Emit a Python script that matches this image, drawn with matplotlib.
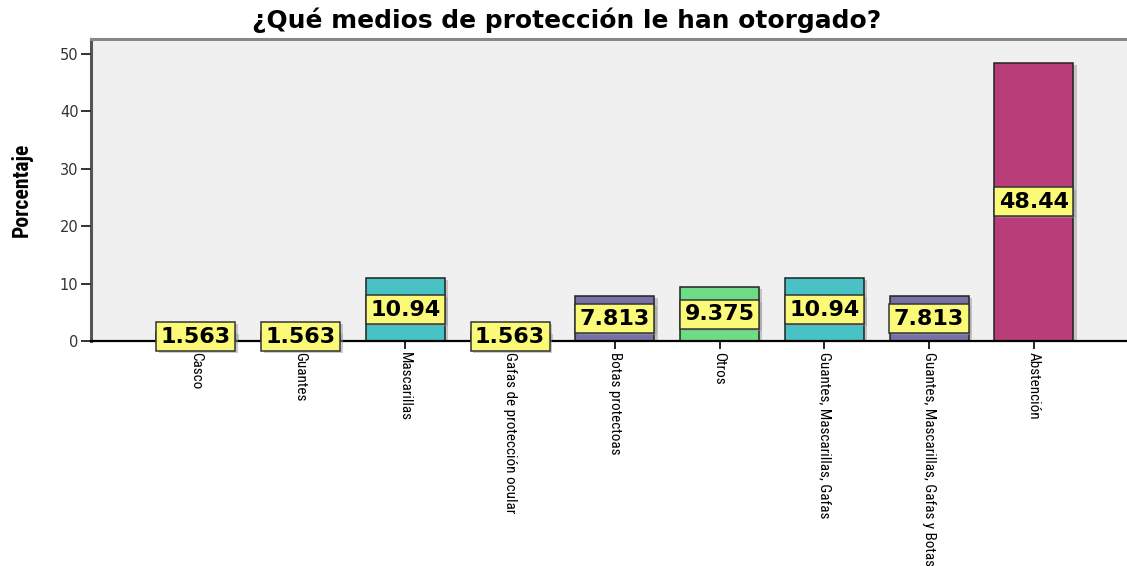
import matplotlib
matplotlib.use("Agg")
import matplotlib.pyplot as plt
import matplotlib.font_manager as fm
import matplotlib.patheffects as pe
import numpy as np

categories = ["Casco", "Guantes", "Mascarillas", "Gafas de protección ocular",
              "Botas protectoas", "Otros", "Guantes, Mascarillas, Gafas",
              "Guantes, Mascarillas, Gafas y Botas", "Abstención"]
values = [1.563, 1.563, 10.94, 1.563, 7.813, 9.375, 10.94, 7.813, 48.44]
value_labels = ["1.563", "1.563", "10.94", "1.563", "7.813", "9.375", "10.94", "7.813", "48.44"]
colors = ["#3e58ac", "#2eb848", "#48c2c5", "#d3ce97", "#7672a6",
          "#6edc84", "#48c2c5", "#7672a6", "#b93d79"]
yticks = [0, 10, 20, 30, 40, 50]
title = "¿Qué medios de protección le han otorgado?"
ylabel = "Porcentaje"

avail = {f.name for f in fm.fontManager.ttflist}
narrow_family = "Liberation Sans"
for cand in ["Liberation Sans Narrow", "Arial Narrow", "Roboto Condensed",
             "Open Sans Condensed", "DejaVu Sans Condensed"]:
    if cand in avail:
        narrow_family = cand
        break

W, H = 1127, 566
fig = plt.figure(figsize=(W / 100, H / 100), dpi=100)
ax = fig.add_axes([91 / W, 1 - 341 / H, 1 - 91 / W, (341 - 39) / H])
ax.set_facecolor("#f0f0f0")

x = np.arange(len(categories))
shadow = [pe.SimplePatchShadow(offset=(2.5, -1.5), shadow_rgbFace="#999999", alpha=0.5), pe.Normal()]
bars = ax.bar(x, values, width=0.754, color=colors, edgecolor="#222222",
              linewidth=1.1, zorder=2)
for b in bars:
    b.set_path_effects(shadow)

for xi, v, lab in zip(x, values, value_labels):
    t = ax.text(xi, v / 2, lab, ha="center", va="center", fontsize=16,
                fontweight="bold", family="DejaVu Sans", color="black", zorder=4,
                bbox=dict(boxstyle="square,pad=0.2", facecolor="#fafa78",
                          edgecolor="#333333", linewidth=1.1))
    t.get_bbox_patch().set_path_effects(
        [pe.SimplePatchShadow(offset=(2, -1.5), shadow_rgbFace="#999999", alpha=0.5), pe.Normal()])

ax.set_xlim(-1.0, 8.89)
ax.set_ylim(0, 52.6)
ax.set_yticks(yticks)
ax.set_yticklabels([str(t) for t in yticks], family="DejaVu Sans", fontsize=10.5, color="#333333")
ax.tick_params(axis="y", length=7, width=1.4, color="#333333", pad=2)
ax.set_xticks(x)
xt = ax.set_xticklabels(categories, rotation=-90, family=narrow_family, fontsize=11,
                        va="top", ha="center", rotation_mode="default")
ax.tick_params(axis="x", length=6, width=1.2, color="black", pad=2)

ax.spines["right"].set_visible(False)
ax.spines["left"].set_color("#555555")
ax.spines["left"].set_linewidth(2.2)
ax.spines["top"].set_color("#888888")
ax.spines["top"].set_linewidth(2.2)
ax.spines["bottom"].set_color("black")
ax.spines["bottom"].set_linewidth(1.6)
ax.spines["bottom"].set_zorder(3)
ax.set_axisbelow(False)

ttl = fig.text(567 / W, 1 - 20 / H, title, ha="center", va="center",
               fontsize=14, fontweight="bold", family="DejaVu Sans", color="black")
yl = fig.text(22 / W, 1 - 190 / H, ylabel, ha="center", va="center", rotation=90,
              fontsize=13, fontweight="bold", family=narrow_family, color="black")

# fit text lengths to reference extents
fig.canvas.draw()
r = fig.canvas.get_renderer()
def fit(t, target, horizontal=True):
    bb = t.get_window_extent(r)
    cur = bb.width if horizontal else bb.height
    t.set_fontsize(t.get_fontsize() * target / cur)
fit(ttl, 630, True)
fit(yl, 94, False)
bb = xt[3].get_window_extent(r)
scale = 160 / bb.height
for t in xt:
    t.set_fontsize(t.get_fontsize() * scale)

fig.savefig("out.png", dpi=100)
